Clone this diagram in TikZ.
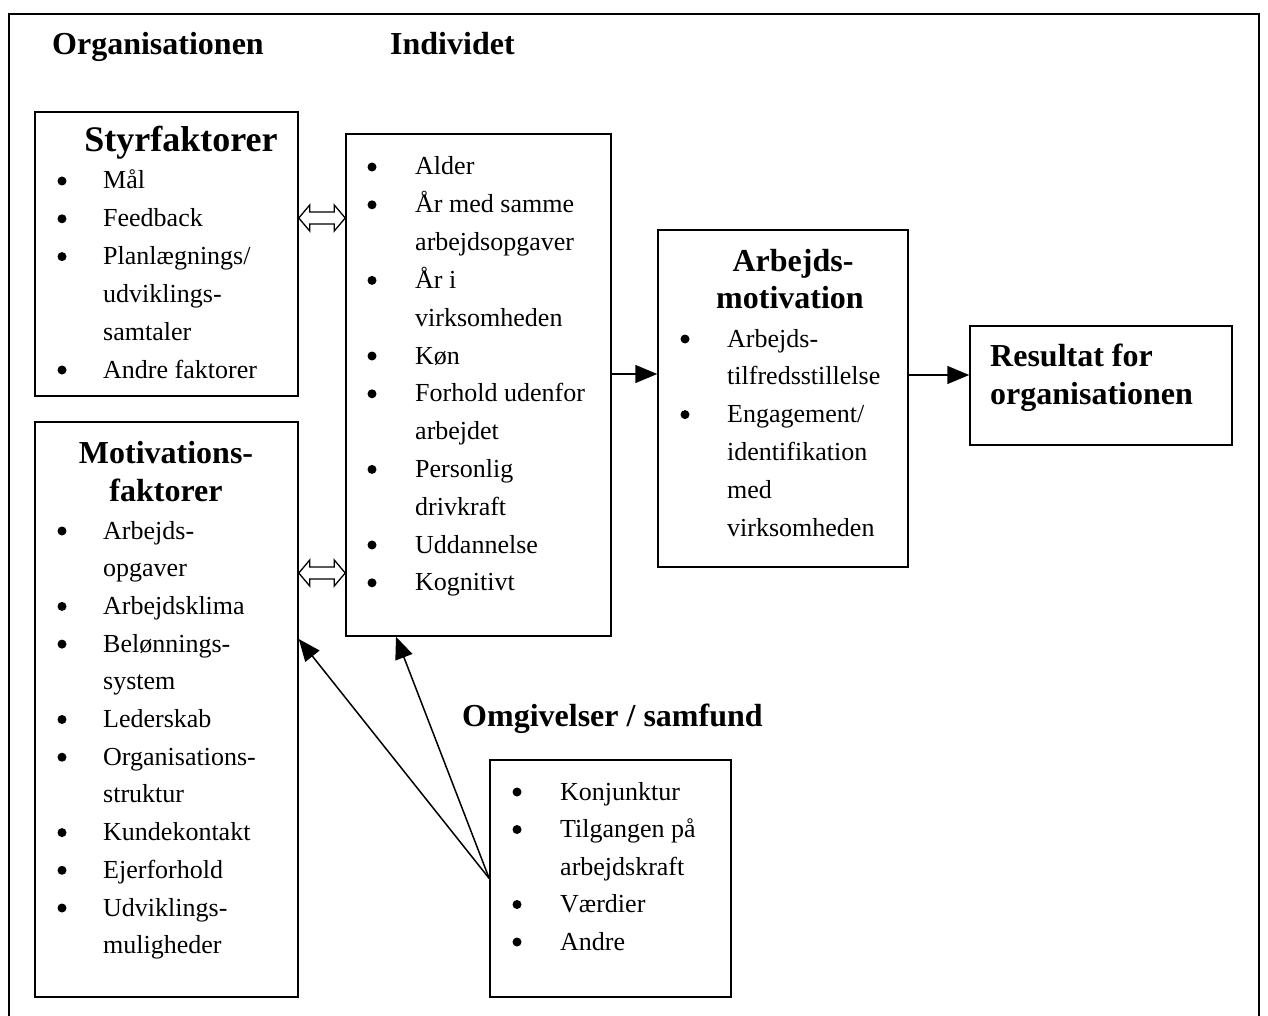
\documentclass[tikz,border=0pt]{standalone}
\usepackage{fontspec}
\setmainfont{Liberation Serif}
\usetikzlibrary{arrows.meta,calc}
\begin{document}
\begin{tikzpicture}[x=1pt,y=-1pt,
  box/.style={draw,line width=1.5pt,rectangle,inner sep=0pt},
  txt/.style={anchor=base west,inner sep=0pt,font=\fontsize{26}{30}\selectfont},
  bul/.style={circle,fill,inner sep=0pt,minimum size=9pt,yshift=8pt},
  head/.style={anchor=base,inner sep=0pt,font=\fontsize{32}{38}\selectfont\bfseries},
  headl/.style={head,anchor=base west},
  conn/.style={line width=1.5pt,-{Triangle[length=22pt,width=18pt]}},
  darr/.style={line width=1.3pt,fill=white,line join=miter}]
\useasboundingbox (0,0) rectangle (1268,1016);
% outer frame
\draw[line width=1.5pt] (9,1020) -- (9,14) -- (1259,14) -- (1259,1020);

% top headings
\node[headl] (horg) at (52,55) {Organisationen};
\node[headl] (hind) at (390,55) {Individet};

% boxes
\node[box,minimum width=263pt,minimum height=284pt] (styr) at (166.5,254) {};
\node[box,minimum width=263pt,minimum height=575pt] (motf) at (166.5,709.5) {};
\node[box,minimum width=265pt,minimum height=502pt] (indiv) at (478.5,385) {};
\node[box,minimum width=250pt,minimum height=337pt] (arbm) at (783,398.5) {};
\node[box,minimum width=262pt,minimum height=119pt] (res) at (1101,385.5) {};
\node[box,minimum width=241pt,minimum height=237pt] (omg) at (610.5,878.5) {};

% Styrfaktorer
\node[head,font=\fontsize{36}{40}\selectfont\bfseries] (hstyr) at (181,152) {Styrfaktorer};
\node[bul] (sb1) at (62,189) {};   \node[txt] (st1) at (103,189) {Mål};
\node[bul] (sb2) at (62,226.8) {}; \node[txt] (st2) at (103,226.8) {Feedback};
\node[bul] (sb3) at (62,264.6) {}; \node[txt] (st3) at (103,264.6) {Planlægnings/};
\node[txt] (st4) at (103,302.4) {udviklings-};
\node[txt] (st5) at (103,340.2) {samtaler};
\node[bul] (sb6) at (62,378) {};   \node[txt] (st6) at (103,378) {Andre faktorer};

% Motivationsfaktorer
\node[head] (hmot1) at (166,463) {Motivations-};
\node[head] (hmot2) at (166,501) {faktorer};
\node[bul] (mb1) at (62,539) {};     \node[txt] (mt1) at (103,539) {Arbejds-};
\node[txt] (mt2) at (103,576.7) {opgaver};
\node[bul] (mb3) at (62,614.4) {};   \node[txt] (mt3) at (103,614.4) {Arbejdsklima};
\node[bul] (mb4) at (62,652.1) {};   \node[txt] (mt4) at (103,652.1) {Belønnings-};
\node[txt] (mt5) at (103,689.8) {system};
\node[bul] (mb6) at (62,727.5) {};   \node[txt] (mt6) at (103,727.5) {Lederskab};
\node[bul] (mb7) at (62,765.2) {};   \node[txt] (mt7) at (103,765.2) {Organisations-};
\node[txt] (mt8) at (103,802.9) {struktur};
\node[bul] (mb9) at (62,840.6) {};   \node[txt] (mt9) at (103,840.6) {Kundekontakt};
\node[bul] (mb10) at (62,878.3) {};  \node[txt] (mt10) at (103,878.3) {Ejerforhold};
\node[bul] (mb11) at (62,916) {};    \node[txt] (mt11) at (103,916) {Udviklings-};
\node[txt] (mt12) at (103,953.7) {muligheder};

% Individet
\node[bul] (ib1) at (372,175) {};     \node[txt] (it1) at (415,175) {Alder};
\node[bul] (ib2) at (372,212.8) {};   \node[txt] (it2) at (415,212.8) {År med samme};
\node[txt] (it3) at (415,250.6) {arbejdsopgaver};
\node[bul] (ib4) at (372,288.4) {};   \node[txt] (it4) at (415,288.4) {År i};
\node[txt] (it5) at (415,326.2) {virksomheden};
\node[bul] (ib6) at (372,364) {};     \node[txt] (it6) at (415,364) {Køn};
\node[bul] (ib7) at (372,401.8) {};   \node[txt] (it7) at (415,401.8) {Forhold udenfor};
\node[txt] (it8) at (415,439.6) {arbejdet};
\node[bul] (ib9) at (372,477.4) {};   \node[txt] (it9) at (415,477.4) {Personlig};
\node[txt] (it10) at (415,515.2) {drivkraft};
\node[bul] (ib11) at (372,553) {};    \node[txt] (it11) at (415,553) {Uddannelse};
\node[bul] (ib12) at (372,590.8) {};  \node[txt] (it12) at (415,590.8) {Kognitivt};

% Arbejdsmotivation
\node[head] (harb1) at (793,272) {Arbejds-};
\node[head] (harb2) at (790,308) {motivation};
\node[bul] (ab1) at (685,347) {};     \node[txt] (at1) at (727,347) {Arbejds-};
\node[txt] (at2) at (727,384.8) {tilfredsstillelse};
\node[bul] (ab3) at (685,422.6) {};   \node[txt] (at3) at (727,422.6) {Engagement/};
\node[txt] (at4) at (727,460.4) {identifikation};
\node[txt] (at5) at (727,498.2) {med};
\node[txt] (at6) at (727,536) {virksomheden};

% Resultat
\node[headl] (hres1) at (990,366) {Resultat for};
\node[headl] (hres2) at (990,404) {organisationen};

% Omgivelser
\node[headl] (homg) at (462,726) {Omgivelser / samfund};
\node[bul] (ob1) at (517,800) {};     \node[txt] (ot1) at (560,800) {Konjunktur};
\node[bul] (ob2) at (517,837.5) {};   \node[txt] (ot2) at (560,837.5) {Tilgangen på};
\node[txt] (ot3) at (560,875) {arbejdskraft};
\node[bul] (ob4) at (517,912.5) {};   \node[txt] (ot4) at (560,912.5) {Værdier};
\node[bul] (ob5) at (517,950) {};     \node[txt] (ot5) at (560,950) {Andre};

% double arrows
\coordinate (a1) at (styr.east |- 0,218);
\coordinate (a2) at (indiv.west |- 0,218);
\draw[darr] (a1) -- ($(a1)+(11,-13)$) -- ($(a1)+(11,-6)$) -- ($(a2)+(-11,-6)$) -- ($(a2)+(-11,-13)$) -- (a2)
  -- ($(a2)+(-11,13)$) -- ($(a2)+(-11,6)$) -- ($(a1)+(11,6)$) -- ($(a1)+(11,13)$) -- cycle;
\coordinate (b1) at (motf.east |- 0,573);
\coordinate (b2) at (indiv.west |- 0,573);
\draw[darr] (b1) -- ($(b1)+(11,-13)$) -- ($(b1)+(11,-6)$) -- ($(b2)+(-11,-6)$) -- ($(b2)+(-11,-13)$) -- (b2)
  -- ($(b2)+(-11,13)$) -- ($(b2)+(-11,6)$) -- ($(b1)+(11,6)$) -- ($(b1)+(11,13)$) -- cycle;

% arrows
\draw[conn] (indiv.east |- 0,374) -- (arbm.west |- 0,374);
\draw[conn] (arbm.east |- 0,375) -- (res.west |- 0,375);
\draw[conn] (omg.west) -- (motf.east |- 0,639);
\draw[conn] (omg.west) -- (indiv.south -| 396,0);
\end{tikzpicture}
\end{document}
